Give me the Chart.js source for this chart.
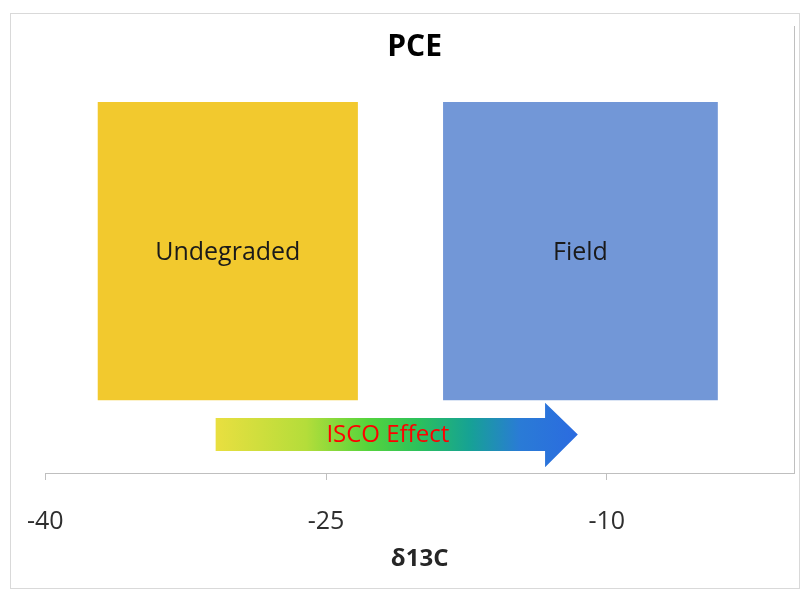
<!DOCTYPE html>
<html>
<head>
<meta charset="utf-8">
<script src="https://cdn.jsdelivr.net/npm/chart.js@4/dist/chart.umd.min.js"></script>
<style>
  html, body { margin: 0; padding: 0; background: #ffffff; }
  #wrap { width: 804px; height: 589px; position: relative; }
</style>
</head>
<body>
<div id="wrap"><canvas id="c" width="804" height="589"></canvas></div>
<script>
// ---- Data ----
const chartTitle = 'PCE';
const xAxisTitle = 'δ13C';
const xRange = [-40, 0];
const yRange = [0, 100];
const tickValues = [-40, -25, -10];

const boxNames  = ['Undegraded', 'Field'];
const boxXStart = [-37.2, -18.75];
const boxXEnd   = [-23.3, -4.07];
const boxYLow   = [16.3, 16.3];
const boxYHigh  = [83.0, 83.0];

const arrowLabel = 'ISCO Effect';
const arrowX = [-30.9, -13.3, -13.3, -11.55, -13.3, -13.3, -30.9, -30.9];
const arrowY = [12.3, 12.3, 15.7, 8.6, 1.3, 4.9, 4.9, 12.3];
const arrowLabelAt = [-21.7, 8.4];

// ---- Styles ----
const boxColors = ['#F2C92E', '#7297D7'];
const gradientStops = [
  [0.00, '#E9DF40'], [0.25, '#B4DD3A'], [0.42, '#55D43C'], [0.56, '#2CC15C'],
  [0.70, '#16A294'], [0.84, '#2A7BD6'], [1.00, '#2B6BE0']
];
const FONT = '"Open Sans", "Liberation Sans", sans-serif';

function rectPoints(i) {
  return [
    {x: boxXStart[i], y: boxYLow[i]}, {x: boxXStart[i], y: boxYHigh[i]},
    {x: boxXEnd[i], y: boxYHigh[i]}, {x: boxXEnd[i], y: boxYLow[i]},
    {x: boxXStart[i], y: boxYLow[i]}
  ];
}

const datasets = boxNames.map((name, i) => ({
  label: name,
  data: rectPoints(i),
  showLine: true,
  fill: 'shape',
  backgroundColor: boxColors[i],
  borderWidth: 0,
  borderColor: 'rgba(0,0,0,0)',
  pointRadius: 0,
  tension: 0
}));

datasets.push({
  label: arrowLabel,
  data: arrowX.map((x, i) => ({x: x, y: arrowY[i]})),
  showLine: true,
  fill: 'shape',
  borderWidth: 0,
  borderColor: 'rgba(0,0,0,0)',
  pointRadius: 0,
  tension: 0,
  backgroundColor: function(ctx) {
    const chart = ctx.chart;
    if (!chart.chartArea) return gradientStops[0][1];
    const xs = chart.scales.x;
    const x0 = xs.getPixelForValue(Math.min(...arrowX));
    const x1 = xs.getPixelForValue(Math.max(...arrowX));
    const g = chart.ctx.createLinearGradient(x0, 0, x1, 0);
    gradientStops.forEach(s => g.addColorStop(s[0], s[1]));
    return g;
  }
});

const framePlugin = {
  id: 'frame',
  beforeDraw(chart) {
    const c = chart.ctx;
    c.save();
    c.fillStyle = '#ffffff';
    c.fillRect(0, 0, chart.width, chart.height);
    c.strokeStyle = '#d9d9d9';
    c.lineWidth = 1;
    c.strokeRect(10.5, 13.5, 789, 575);
    c.restore();
  }
};

const labelPlugin = {
  id: 'labels',
  afterDatasetsDraw(chart) {
    const c = chart.ctx;
    const xs = chart.scales.x, ys = chart.scales.y;
    const area = chart.chartArea;
    c.save();
    c.textAlign = 'center';
    c.textBaseline = 'middle';
    // title
    c.fillStyle = '#000000';
    c.font = 'bold 30px ' + FONT;
    c.fillText(chartTitle, (area.left + area.right) / 2 - 5, 47);
    // box labels
    c.fillStyle = '#1a1a1a';
    c.font = '25px ' + FONT;
    boxNames.forEach((name, i) => {
      const px = xs.getPixelForValue((boxXStart[i] + boxXEnd[i]) / 2);
      const py = ys.getPixelForValue((boxYLow[i] + boxYHigh[i]) / 2);
      c.fillText(name, px, py + 2);
    });
    // arrow label
    c.fillStyle = '#FF0000';
    c.font = '24px ' + FONT;
    c.fillText(arrowLabel, xs.getPixelForValue(arrowLabelAt[0]), ys.getPixelForValue(arrowLabelAt[1]));
    c.restore();
  }
};

new Chart(document.getElementById('c'), {
  type: 'scatter',
  data: { datasets: datasets },
  options: {
    responsive: false,
    animation: false,
    events: [],
    layout: { padding: { left: 45, top: 26, right: 0, bottom: 0 } },
    plugins: {
      legend: { display: false },
      tooltip: { enabled: false },
      title: { display: false }
    },
    scales: {
      x: {
        type: 'linear',
        min: xRange[0],
        max: xRange[1],
        afterBuildTicks(scale) { scale.ticks = tickValues.map(v => ({value: v})); },
        afterFit(scale) { scale.height = 116; },
        grid: { drawOnChartArea: false, drawTicks: true, tickLength: 7, color: '#bfbfbf' },
        border: { display: true, color: '#bfbfbf', width: 1 },
        ticks: {
          color: '#2e2e2e',
          font: { family: FONT, size: 25 },
          padding: 27,
          maxRotation: 0,
          autoSkip: false
        },
        title: {
          display: true,
          text: xAxisTitle,
          color: '#262626',
          font: { family: FONT, size: 24, weight: 'bold' },
          padding: { top: 0, bottom: 15 }
        }
      },
      y: {
        type: 'linear',
        position: 'right',
        min: yRange[0],
        max: yRange[1],
        afterFit(scale) { scale.width = 10; },
        grid: { display: false },
        border: { display: true, color: '#bfbfbf', width: 1 },
        ticks: { display: false }
      }
    }
  },
  plugins: [framePlugin, labelPlugin]
});
</script>
</body>
</html>
